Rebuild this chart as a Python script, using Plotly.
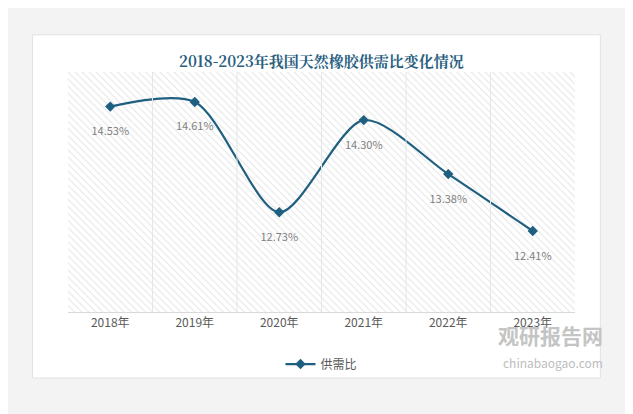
import plotly.graph_objects as go

years = ['2018年', '2019年', '2020年', '2021年', '2022年', '2023年']
ratio = [14.53, 14.61, 12.73, 14.30, 13.38, 12.41]
labels = ['14.53%', '14.61%', '12.73%', '14.30%', '13.38%', '12.41%']

y_lo, y_hi = 11.03, 15.12
line_color = '#1f5f80'

fig = go.Figure()

# hatched plot background
fig.add_trace(go.Bar(x=years, y=[y_hi - y_lo] * len(years), base=[y_lo] * len(years),
                     width=1, showlegend=False, hoverinfo='skip',
                     marker=dict(color='white', line=dict(width=0),
                                 pattern=dict(shape='\\', fgcolor='#c8c8c8', size=5, solidity=0.2))))

fig.add_trace(go.Scatter(x=years, y=ratio, mode='lines+markers+text', name='供需比',
                         line=dict(color=line_color, width=2.2, shape='spline', smoothing=0.8),
                         marker=dict(symbol='diamond', size=8, color=line_color),
                         text=['<br>' + t for t in labels], textposition='bottom center',
                         textfont=dict(color='#7f7f7f', size=11)))

# card
fig.add_shape(type='rect', xref='paper', yref='paper', x0=-0.07, x1=1.05, y0=-0.275, y1=1.155,
              fillcolor='white', line=dict(color='#e2e2e2', width=1), layer='below')

fig.add_annotation(text='<b>2018-2023年我国天然橡胶供需比变化情况</b>', xref='paper', yref='paper',
                   x=0.5, y=1.1, showarrow=False,
                   font=dict(size=15, color='#2a5f7f', family='Noto Serif CJK SC, Noto Sans CJK SC'))
fig.add_annotation(text='<b>观研报告网</b>', xref='paper', yref='paper', x=1.06, y=-0.165,
                   xanchor='right', showarrow=False, font=dict(size=21, color='#c4c4c4', family='Noto Sans CJK SC'))
fig.add_annotation(text='chinabaogao.com', xref='paper', yref='paper', x=1.06, y=-0.255,
                   xanchor='right', showarrow=False, font=dict(size=12, color='#bdbdbd'))

fig.update_layout(
    width=633, height=414,
    margin=dict(l=60, r=66, t=64, b=110),
    paper_bgcolor='#f3f3f3', plot_bgcolor='white',
    font=dict(family='Noto Sans CJK SC', color='#595959'),
    barmode='overlay', bargap=0,
    showlegend=True,
    legend=dict(orientation='h', x=0.5, xanchor='center', yref='container', y=0.175, yanchor='top',
                font=dict(size=12, color='#595959'), bgcolor='rgba(0,0,0,0)'),
    xaxis=dict(showgrid=False, ticks='', tickfont=dict(size=12, color='#595959'),
               showline=True, linecolor='#d9d9d9', range=[-0.5, 5.5]),
    yaxis=dict(range=[y_lo, y_hi], visible=False),
)
for i in range(1, len(years)):
    fig.add_shape(type='line', x0=i - 0.5, x1=i - 0.5, y0=y_lo, y1=y_hi,
                  line=dict(color='#e6e6e6', width=1))

fig.write_html('out.html')
